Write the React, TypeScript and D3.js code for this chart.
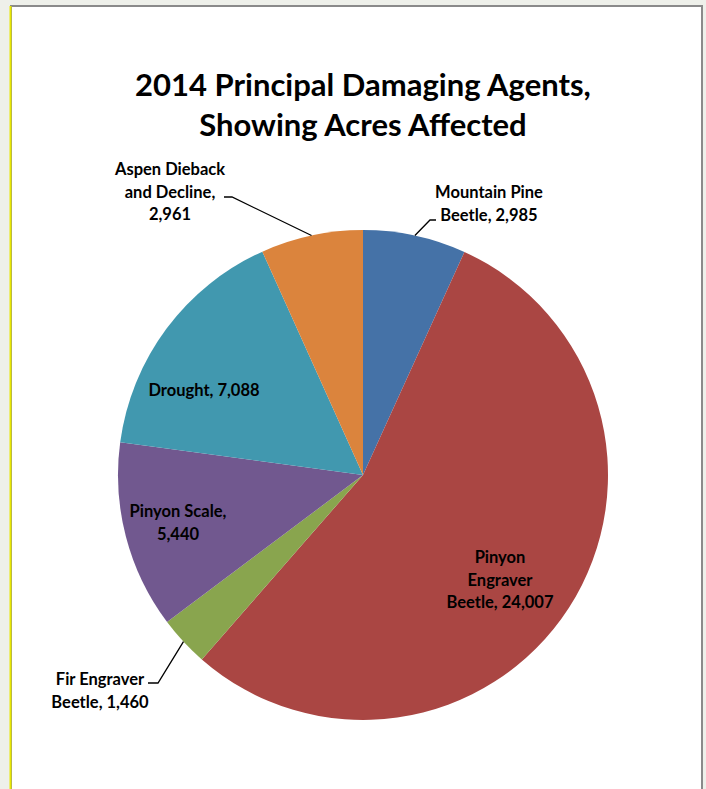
import React from 'react';
import * as d3 from 'd3';

// Data (clockwise from 12 o'clock)
const agents = [
  'Mountain Pine Beetle',
  'Pinyon Engraver Beetle',
  'Fir Engraver Beetle',
  'Pinyon Scale',
  'Drought',
  'Aspen Dieback and Decline',
];
const acres = [2985, 24007, 1460, 5440, 7088, 2961];
const labelLines = [
  ['Mountain Pine', 'Beetle, 2,985'],
  ['Pinyon', 'Engraver', 'Beetle, 24,007'],
  ['Fir Engraver', 'Beetle, 1,460'],
  ['Pinyon Scale,', '5,440'],
  ['Drought, 7,088'],
  ['Aspen Dieback', 'and Decline,', '2,961'],
];
const sliceColors = ['#4572A7', '#AA4643', '#89A54E', '#71588F', '#4198AF', '#DB843D'];
const titleLines = ['2014 Principal Damaging Agents,', 'Showing Acres Affected'];

const W = 706;
const H = 789;
const cx = 363;
const cy = 475;
const R = 245;

// label placement relative to the pie centre: [dx, dy of first baseline]
// plus, for outside labels, the elbow of the leader line
const labelLayout: { x: number; y: number; leader?: [number, number][] }[] = [
  { x: 126, y: -277, leader: [[67, -255], [73, -255]] },
  { x: 137, y: 88 },
  { x: -263, y: 210, leader: [[-205, 208], [-215, 208]] },
  { x: -185, y: 42 },
  { x: -159, y: -79 },
  { x: -193, y: -300, leader: [[-131, -278], [-139, -278]] },
];

const font = 'Lato, "Open Sans", sans-serif';

export default function App() {
  const pie = d3
    .pie<number>()
    .sort(null)
    .value((d) => d);
  const arcs = pie(acres);
  const arc = d3.arc<d3.PieArcDatum<number>>().innerRadius(0).outerRadius(R);

  return (
    <svg
      width={W}
      height={H}
      style={{ position: 'absolute', left: 0, top: 0 }}
      xmlns="http://www.w3.org/2000/svg"
    >
      <rect x={0} y={0} width={W} height={H} fill="#eef0ea" />
      <rect x={11} y={6} width={691} height={H} fill="#ffffff" stroke="#8a8a8a" strokeWidth={2} />
      <line x1={10.5} y1={6} x2={10.5} y2={H} stroke="#e8e800" strokeWidth={2} />

      <g fontFamily={font} fontWeight="bold" fontSize={31} fill="#000" textAnchor="middle">
        {titleLines.map((t, i) => (
          <text key={t} x={cx} y={96 + i * 40}>
            {t}
          </text>
        ))}
      </g>

      <g transform={`translate(${cx},${cy})`}>
        {arcs.map((a, i) => (
          <path key={agents[i]} d={arc(a) ?? ''} fill={sliceColors[i]} />
        ))}
        {arcs.map((a, i) => {
          const lay = labelLayout[i];
          if (!lay.leader) return null;
          const mid = (a.startAngle + a.endAngle) / 2;
          const p0: [number, number] = [Math.sin(mid) * R, -Math.cos(mid) * R];
          const pts = [p0, ...lay.leader];
          return (
            <path
              key={'l' + i}
              d={d3.line()(pts) ?? ''}
              fill="none"
              stroke="#000"
              strokeWidth={1.3}
            />
          );
        })}
        <g fontFamily={font} fontWeight="bold" fontSize={16.5} fill="#000" textAnchor="middle">
          {labelLines.map((lines, i) => (
            <text key={agents[i]} x={labelLayout[i].x} y={labelLayout[i].y}>
              {lines.map((l, j) => (
                <tspan key={j} x={labelLayout[i].x} dy={j === 0 ? 0 : 22.5}>
                  {l}
                </tspan>
              ))}
            </text>
          ))}
        </g>
      </g>
    </svg>
  );
}
